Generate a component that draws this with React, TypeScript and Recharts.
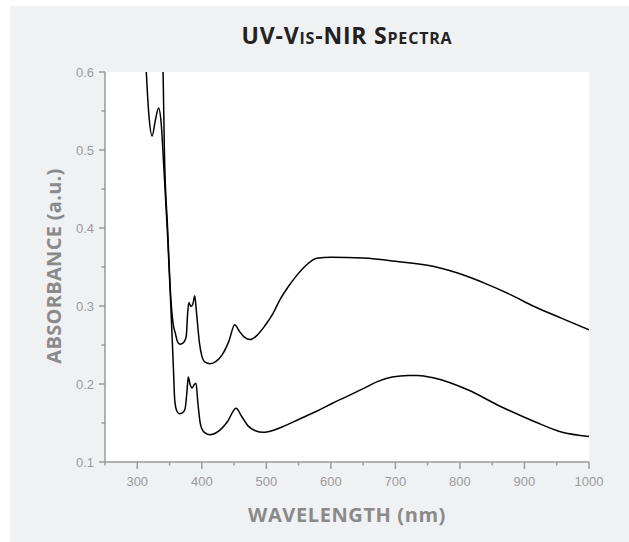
import React from 'react';
import { LineChart, Line, XAxis, YAxis, CartesianGrid } from 'recharts';

// Spectrum traces (nm, absorbance)
const upperNm = [300, 340, 342, 347, 352, 356, 359, 362, 366, 370, 374, 376, 378, 380, 383, 386, 389, 392, 396, 400, 405, 413, 422, 432, 442, 451, 458, 466, 475, 485, 498, 510, 521, 535, 545, 560, 570, 578, 600, 650, 703, 760, 812, 838, 879, 915, 957, 1000];
const upperAbs = [1.2, 0.6, 0.5, 0.4, 0.31, 0.275, 0.265, 0.255, 0.251, 0.252, 0.256, 0.262, 0.29, 0.3045, 0.2995, 0.302, 0.313, 0.29, 0.255, 0.236, 0.228, 0.226, 0.229, 0.238, 0.255, 0.276, 0.268, 0.26, 0.257, 0.262, 0.275, 0.29, 0.308, 0.326, 0.337, 0.351, 0.358, 0.3612, 0.3625, 0.3614, 0.357, 0.3506, 0.3378, 0.3293, 0.3143, 0.2993, 0.2845, 0.2695];

const lowerNm = [300, 314, 318, 323, 328, 333, 337, 341, 347, 352, 356, 358, 361, 365, 370, 374, 377, 379, 382, 385, 388, 391, 394, 398, 404, 413, 425, 440, 453, 462, 472, 483, 495, 510, 526, 550, 578, 604, 630, 650, 672, 695, 720, 735, 760, 812, 863, 915, 957, 1000];
const lowerAbs = [0.95, 0.6, 0.545, 0.518, 0.538, 0.554, 0.535, 0.48, 0.39, 0.3, 0.22, 0.18, 0.166, 0.162, 0.163, 0.168, 0.19, 0.209, 0.199, 0.195, 0.199, 0.201, 0.175, 0.148, 0.138, 0.135, 0.139, 0.152, 0.169, 0.158, 0.146, 0.14, 0.138, 0.1405, 0.1455, 0.1545, 0.165, 0.176, 0.186, 0.194, 0.203, 0.209, 0.211, 0.211, 0.2076, 0.1926, 0.1712, 0.152, 0.1385, 0.1328];

const xTicks = [250, 300, 350, 400, 450, 500, 550, 600, 650, 700, 750, 800, 850, 900, 950, 1000];
const yTicks = [0.1, 0.15, 0.2, 0.25, 0.3, 0.35, 0.4, 0.45, 0.5, 0.55, 0.6];

const upperData = upperNm.map((nm, i) => ({ nm, abs: upperAbs[i] }));
const lowerData = lowerNm.map((nm, i) => ({ nm, abs: lowerAbs[i] }));

const AXIS = '#9a9a9a';
const TICK_TEXT = '#9b9b9b';
const LABEL = '#8a8a8a';
const LABEL_FONT = '"Open Sans", sans-serif';

const XTick = ({ x, y, payload }: any) => {
  const major = payload.value % 100 === 0;
  return (
    <g>
      <line x1={x} y1={y} x2={x} y2={y + (major ? 7 : 3.5)} stroke={AXIS} strokeWidth={1.5} />
      {major && (
        <text x={x} y={y + 19} textAnchor="middle" dominantBaseline="central"
          fontFamily='"Liberation Sans", Arial, sans-serif' fontSize={13} fill={TICK_TEXT}>
          {payload.value}
        </text>
      )}
    </g>
  );
};

const YTick = ({ x, y, payload }: any) => {
  const major = Math.round(payload.value * 100) % 10 === 0;
  return (
    <g>
      <line x1={x - (major ? 6 : 3.5)} y1={y} x2={x} y2={y} stroke={AXIS} strokeWidth={1.5} />
      {major && (
        <text x={x - 11} y={y} textAnchor="end" dominantBaseline="central"
          fontFamily='"Liberation Sans", Arial, sans-serif' fontSize={13} fill={TICK_TEXT}>
          {payload.value.toFixed(1)}
        </text>
      )}
    </g>
  );
};

export default function App() {
  return (
    <div style={{ position: 'absolute', left: 0, top: 0, width: 629, height: 542, background: '#fff' }}>
      <div style={{ position: 'absolute', left: 10, top: 6, width: 619, height: 536, background: '#f0f1f3' }} />
      <div style={{
        position: 'absolute', left: 105, top: 24, width: 484, textAlign: 'center',
        fontFamily: LABEL_FONT, fontWeight: 700, fontSize: 23, lineHeight: '23px',
        letterSpacing: 0.8, fontVariant: 'small-caps', color: '#222',
      }}>
        UV-Vis-NIR Spectra
      </div>
      <div style={{ position: 'absolute', left: 0, top: 0 }}>
        <LineChart width={629} height={542} data={upperData}
          margin={{ top: 72, right: 40, bottom: 0, left: 0 }}>
          <CartesianGrid fill="#ffffff" horizontal={false} vertical={false} />
          <XAxis
            dataKey="nm"
            type="number"
            domain={[250, 1000]}
            ticks={xTicks}
            interval={0}
            allowDataOverflow
            height={80}
            tickSize={0}
            tickMargin={0}
            tickLine={false}
            axisLine={{ stroke: AXIS, strokeWidth: 1.5 }}
            tick={<XTick />}
            label={{
              content: () => (
                <text x={347} y={514} textAnchor="middle" dominantBaseline="central"
                  fontFamily={LABEL_FONT} fontWeight={700} fontSize={20} letterSpacing={0.6} fill={LABEL}>
                  WAVELENGTH (nm)
                </text>
              ),
            }}
          />
          <YAxis
            type="number"
            domain={[0.1, 0.6]}
            ticks={yTicks}
            interval={0}
            allowDataOverflow
            width={105}
            tickSize={0}
            tickMargin={0}
            tickLine={false}
            axisLine={{ stroke: AXIS, strokeWidth: 1.5 }}
            tick={<YTick />}
            label={{
              content: () => (
                <text x={53} y={266} transform="rotate(-90 53 266)" textAnchor="middle"
                  dominantBaseline="central" fontFamily={LABEL_FONT} fontWeight={700}
                  fontSize={20} letterSpacing={0.3} fill={LABEL}>
                  ABSORBANCE (a.u.)
                </text>
              ),
            }}
          />
          <Line data={upperData} dataKey="abs" type="monotone" stroke="#000" strokeWidth={1.5}
            dot={false} activeDot={false} isAnimationActive={false} />
          <Line data={lowerData} dataKey="abs" type="monotone" stroke="#000" strokeWidth={1.5}
            dot={false} activeDot={false} isAnimationActive={false} />
        </LineChart>
      </div>
    </div>
  );
}
